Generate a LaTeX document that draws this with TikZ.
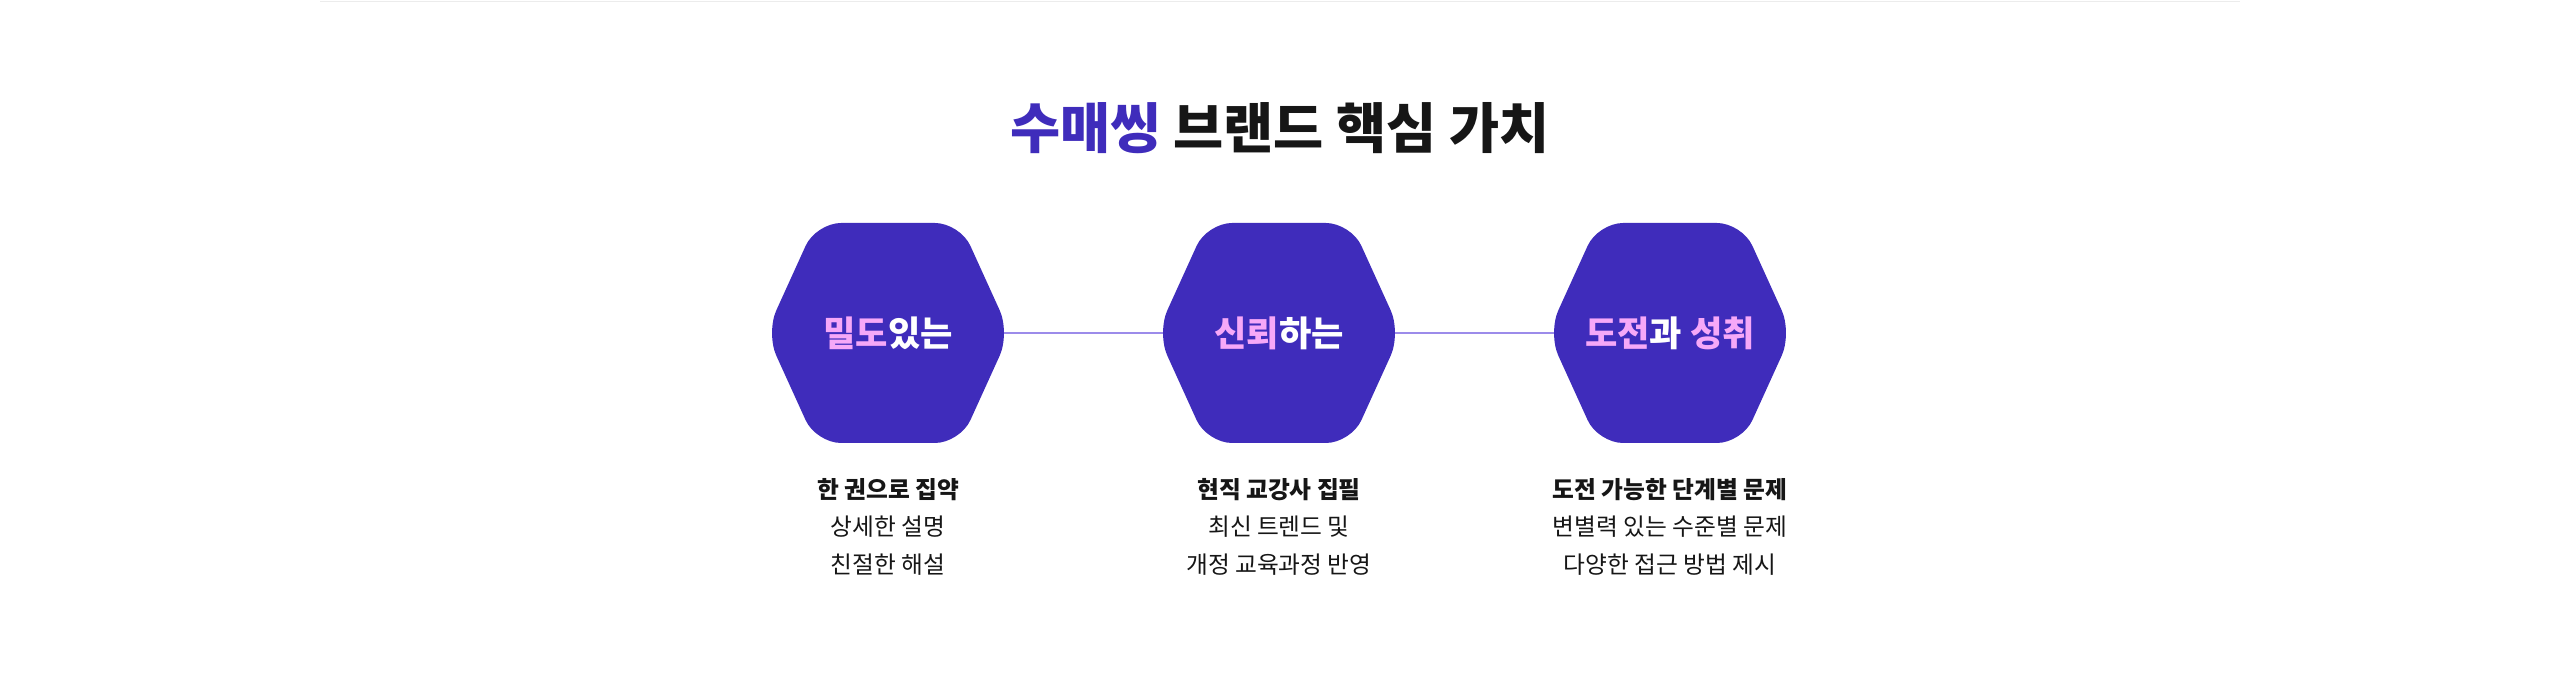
\documentclass[tikz,border=0pt]{standalone}
\usepackage{fontspec}
\setmainfont{Noto Sans CJK KR}
\usetikzlibrary{positioning}
\definecolor{hexblue}{HTML}{3F2CBB}
\definecolor{hexpink}{HTML}{F6A8F8}
\definecolor{linkline}{HTML}{9C8BEA}
\definecolor{titleink}{HTML}{161616}
\newcommand{\hexagon}[1]{%
  \fill[hexblue,rounded corners=0.5cm] ($(#1)+(-1.22,0)$) -- ($(#1)+(-0.72,1.1)$) -- ($(#1)+(0.72,1.1)$)
    -- ($(#1)+(1.22,0)$) -- ($(#1)+(0.72,-1.1)$) -- ($(#1)+(-0.72,-1.1)$) -- cycle;}
\usetikzlibrary{calc}
\begin{document}
\begin{tikzpicture}[x=2cm,y=2cm,
    hexlabel/.style={font=\fontsize{20}{24}\selectfont\bfseries, text=white},
    caption/.style={font=\fontsize{13.5}{21.3}\selectfont, align=center, text=titleink, anchor=north}]
\useasboundingbox (0,0) rectangle (25.6,6.79);
\draw[gray!15,line width=0.4pt] (3.2,6.78) -- (22.4,6.78);
\node (title) at (12.8,5.51) {\fontsize{31}{36}\selectfont\bfseries\textcolor{hexblue}{수매씽} \textcolor{titleink}{브랜드 핵심 가치}};
\coordinate (h1) at (8.88,3.46);
\coordinate (h2) at (12.79,3.46);
\coordinate (h3) at (16.70,3.46);
\draw[linkline,line width=1.2pt] (h1) -- (h3);
\foreach\h in {h1,h2,h3} {\hexagon{\h}}
\node[hexlabel] (v1) at (h1) {\textcolor{hexpink}{밀도}있는};
\node[hexlabel] (v2) at (h2) {\textcolor{hexpink}{신뢰}하는};
\node[hexlabel] (v3) at (h3) {\textcolor{hexpink}{도전}과 \textcolor{hexpink}{성취}};
\node[caption] (c1) at (8.88,2.07) {\textbf{한 권으로 집약}\\상세한 설명\\친절한 해설};
\node[caption] (c2) at (12.79,2.07) {\textbf{현직 교강사 집필}\\최신 트렌드 및\\개정 교육과정 반영};
\node[caption] (c3) at (16.70,2.07) {\textbf{도전 가능한 단계별 문제}\\변별력 있는 수준별 문제\\다양한 접근 방법 제시};
\end{tikzpicture}
\end{document}
